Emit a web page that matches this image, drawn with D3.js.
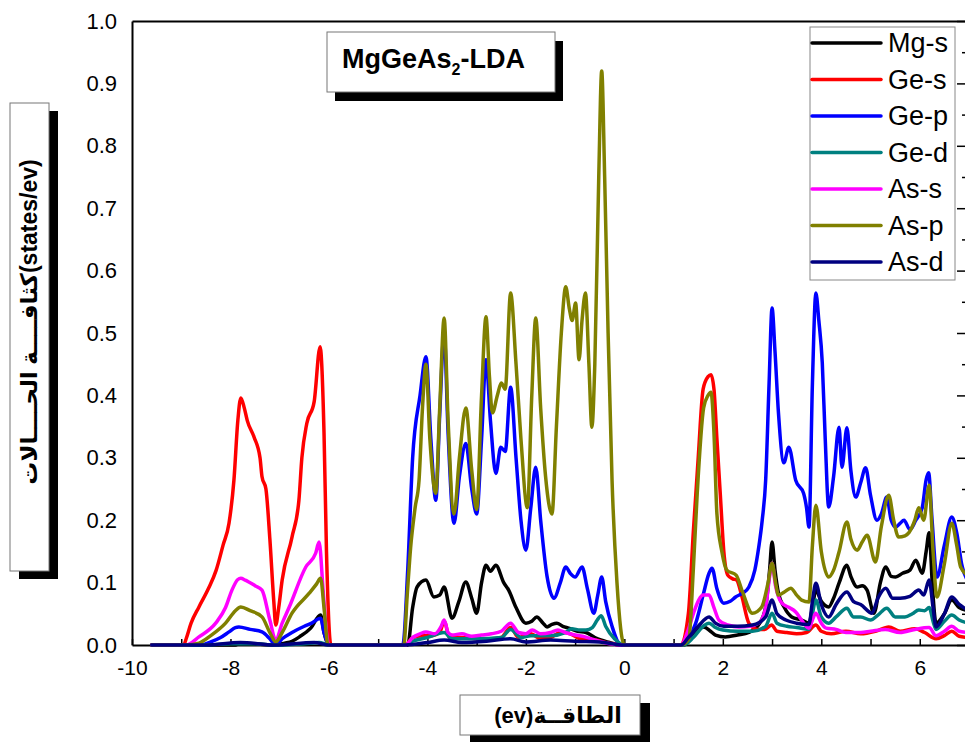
<!DOCTYPE html>
<html>
<head>
<meta charset="utf-8">
<script src="https://cdn.jsdelivr.net/npm/d3@7"></script>
<style>
  body { margin: 0; background: #fff; }
  text { font-family: "Liberation Sans", "DejaVu Sans", Arial, sans-serif; }
</style>
</head>
<body>
<div id="viz"></div>
<script>
const width = 965;
const height = 742;

// Series names / colours (legend order = drawing order)
const seriesNames = ['Mg-s', 'Ge-s', 'Ge-p', 'Ge-d', 'As-s', 'As-p', 'As-d'];
const seriesColors = ['#000000', '#ff0000', '#0000ff', '#008080', '#ff00ff', '#808000', '#000080'];

// [energy (eV), DOS (states/eV)]
const mgS = [[-9.6,0],[-7.9,0],[-7.8,0.003],[-7.1,0],[-6.9,0.003],[-6.75,0.006],[-6.6,0.013],[-6.37,0.027],[-6.17,0.048],[-6.1,0.02],[-6.0,0],
  [-4.4,0],[-4.3,0.06],[-4.21,0.093],[-4.03,0.104],[-3.87,0.077],[-3.75,0.08],[-3.66,0.093],[-3.5,0.043],[-3.36,0.07],[-3.22,0.101],[-3.1,0.075],[-3.0,0.051],[-2.9,0.1],[-2.81,0.128],[-2.72,0.118],[-2.61,0.128],[-2.45,0.1],[-2.35,0.088],[-2.2,0.06],[-2.0,0.035],[-1.88,0.038],[-1.78,0.045],[-1.65,0.035],[-1.57,0.029],[-1.47,0.033],[-1.37,0.035],[-1.25,0.03],[-1.13,0.027],[-0.95,0.022],[-0.78,0.02],[-0.6,0.012],[-0.48,0.008],[-0.3,0.004],[-0.1,0],
  [1.2,0],[1.4,0.015],[1.61,0.029],[1.75,0.022],[1.85,0.016],[2.05,0.013],[2.3,0.016],[2.53,0.02],[2.75,0.035],[2.87,0.061],[2.95,0.12],[3.0,0.165],[3.06,0.12],[3.13,0.083],[3.25,0.06],[3.4,0.045],[3.6,0.04],[3.75,0.035],[3.82,0.06],[3.89,0.088],[4.0,0.07],[4.15,0.061],[4.25,0.075],[4.36,0.099],[4.52,0.128],[4.6,0.11],[4.73,0.093],[4.83,0.095],[4.93,0.088],[5.07,0.051],[5.2,0.1],[5.31,0.125],[5.42,0.11],[5.51,0.109],[5.65,0.115],[5.8,0.12],[5.92,0.136],[6.05,0.115],[6.13,0.15],[6.19,0.18],[6.26,0.09],[6.33,0.035],[6.5,0.05],[6.65,0.072],[6.8,0.06],[7.0,0.055]];

const geS = [[-9.6,0],[-8.95,0],[-8.9,0.01],[-8.8,0.035],[-8.64,0.061],[-8.45,0.09],[-8.29,0.12],[-8.15,0.16],[-8.03,0.195],[-7.93,0.264],[-7.85,0.36],[-7.79,0.396],[-7.72,0.38],[-7.66,0.36],[-7.52,0.333],[-7.4,0.3],[-7.36,0.27],[-7.28,0.25],[-7.2,0.17],[-7.12,0.07],[-7.08,0.032],[-7.02,0.06],[-6.95,0.104],[-6.75,0.173],[-6.61,0.232],[-6.55,0.3],[-6.45,0.355],[-6.3,0.39],[-6.18,0.478],[-6.1,0.34],[-6.05,0.15],[-5.96,0],
  [-4.45,0],[-4.3,0.012],[-4.1,0.015],[-3.9,0.015],[-3.75,0.02],[-3.66,0.038],[-3.55,0.012],[-3.3,0.012],[-3.0,0.01],[-2.7,0.01],[-2.5,0.012],[-2.31,0.028],[-2.15,0.012],[-1.9,0.018],[-1.7,0.01],[-1.5,0.012],[-1.27,0.021],[-1.1,0.018],[-0.9,0.01],[-0.6,0.008],[-0.3,0.003],[0,0],
  [1.15,0],[1.3,0.05],[1.4,0.18],[1.5,0.3],[1.6,0.41],[1.7,0.43],[1.76,0.433],[1.82,0.41],[1.88,0.33],[1.95,0.24],[2.02,0.15],[2.1,0.112],[2.2,0.106],[2.28,0.104],[2.38,0.08],[2.53,0.035],[2.7,0.025],[2.85,0.025],[2.99,0.032],[3.1,0.022],[3.3,0.02],[3.5,0.018],[3.7,0.02],[3.89,0.032],[4.0,0.022],[4.2,0.018],[4.5,0.022],[4.8,0.018],[5.1,0.022],[5.37,0.029],[5.6,0.022],[5.9,0.026],[6.1,0.02],[6.33,0.01],[6.5,0.015],[6.65,0.022],[6.8,0.014],[7.0,0.012]];

const geP = [[-9.6,0],[-8.6,0],[-8.4,0.005],[-8.2,0.012],[-8.03,0.021],[-7.9,0.028],[-7.83,0.029],[-7.6,0.025],[-7.36,0.021],[-7.2,0.01],[-7.08,0],[-6.95,0.01],[-6.75,0.02],[-6.5,0.03],[-6.35,0.035],[-6.17,0.043],[-6.1,0.02],[-6.0,0],
  [-4.5,0],[-4.4,0.12],[-4.3,0.3],[-4.15,0.4],[-4.03,0.462],[-3.93,0.33],[-3.83,0.232],[-3.75,0.37],[-3.66,0.5],[-3.58,0.34],[-3.46,0.195],[-3.35,0.27],[-3.22,0.323],[-3.1,0.25],[-3.0,0.21],[-2.9,0.33],[-2.81,0.457],[-2.72,0.36],[-2.61,0.275],[-2.51,0.317],[-2.42,0.31],[-2.31,0.413],[-2.2,0.3],[-2.1,0.2],[-2.0,0.152],[-1.9,0.22],[-1.8,0.285],[-1.7,0.2],[-1.57,0.11],[-1.43,0.075],[-1.3,0.1],[-1.19,0.125],[-1.1,0.115],[-1.0,0.109],[-0.86,0.125],[-0.75,0.09],[-0.62,0.051],[-0.54,0.08],[-0.46,0.109],[-0.38,0.07],[-0.25,0.03],[-0.07,0],
  [1.15,0],[1.3,0.01],[1.45,0.035],[1.6,0.08],[1.72,0.115],[1.78,0.123],[1.88,0.09],[2.02,0.067],[2.15,0.07],[2.26,0.077],[2.4,0.083],[2.53,0.093],[2.65,0.12],[2.73,0.157],[2.8,0.2],[2.87,0.264],[2.94,0.42],[3.0,0.54],[3.06,0.47],[3.13,0.372],[3.24,0.292],[3.34,0.317],[3.48,0.264],[3.64,0.243],[3.7,0.22],[3.75,0.189],[3.82,0.42],[3.89,0.564],[3.95,0.52],[4.02,0.452],[4.08,0.33],[4.15,0.221],[4.25,0.27],[4.36,0.349],[4.42,0.285],[4.52,0.348],[4.6,0.28],[4.7,0.237],[4.8,0.26],[4.9,0.284],[5.0,0.24],[5.13,0.2],[5.22,0.21],[5.33,0.237],[5.42,0.2],[5.51,0.189],[5.6,0.195],[5.68,0.2],[5.8,0.185],[5.92,0.2],[6.05,0.22],[6.13,0.265],[6.18,0.276],[6.25,0.2],[6.35,0.109],[6.5,0.16],[6.65,0.205],[6.75,0.18],[6.85,0.13],[7.0,0.1]];

const geD = [[-9.6,0],[-8.5,0],[-8.0,0.002],[-7.5,0.002],[-7.1,0],[-6.5,0.002],[-6.2,0.004],[-6.0,0],
  [-4.45,0],[-4.3,0.006],[-4.0,0.012],[-3.66,0.02],[-3.5,0.01],[-3.0,0.01],[-2.5,0.012],[-2.31,0.025],[-2.1,0.012],[-1.9,0.015],[-1.5,0.015],[-1.2,0.02],[-1.07,0.026],[-0.9,0.024],[-0.78,0.024],[-0.65,0.028],[-0.55,0.04],[-0.47,0.047],[-0.38,0.03],[-0.2,0.01],[0,0],
  [1.2,0],[1.4,0.012],[1.6,0.03],[1.72,0.035],[1.85,0.028],[2.0,0.024],[2.3,0.022],[2.6,0.022],[2.87,0.03],[3.0,0.051],[3.1,0.035],[3.3,0.03],[3.5,0.028],[3.75,0.025],[3.89,0.072],[4.0,0.045],[4.15,0.035],[4.3,0.045],[4.52,0.059],[4.65,0.045],[4.8,0.045],[5.0,0.04],[5.15,0.048],[5.33,0.059],[5.5,0.045],[5.7,0.045],[5.85,0.05],[5.98,0.056],[6.1,0.055],[6.19,0.06],[6.28,0.035],[6.33,0.025],[6.5,0.038],[6.65,0.048],[6.8,0.04],[7.0,0.035]];

const asS = [[-9.6,0],[-8.9,0],[-8.64,0.013],[-8.3,0.035],[-8.1,0.06],[-7.97,0.088],[-7.85,0.105],[-7.79,0.107],[-7.7,0.104],[-7.5,0.095],[-7.36,0.088],[-7.2,0.04],[-7.08,0.008],[-6.95,0.035],[-6.81,0.06],[-6.47,0.125],[-6.27,0.147],[-6.2,0.165],[-6.12,0.09],[-6.05,0.02],[-6.0,0],
  [-4.45,0],[-4.3,0.012],[-4.15,0.018],[-4.03,0.021],[-3.85,0.018],[-3.72,0.03],[-3.66,0.04],[-3.58,0.02],[-3.5,0.016],[-3.3,0.018],[-3.1,0.014],[-2.9,0.016],[-2.7,0.018],[-2.5,0.022],[-2.31,0.035],[-2.15,0.02],[-2.0,0.018],[-1.87,0.024],[-1.7,0.018],[-1.5,0.02],[-1.35,0.024],[-1.2,0.02],[-1.0,0.016],[-0.8,0.013],[-0.6,0.008],[-0.3,0.002],[0,0],
  [1.15,0],[1.3,0.025],[1.4,0.05],[1.51,0.072],[1.6,0.08],[1.72,0.08],[1.82,0.06],[1.92,0.04],[2.1,0.032],[2.33,0.029],[2.55,0.03],[2.73,0.035],[2.87,0.06],[2.95,0.11],[3.0,0.131],[3.07,0.095],[3.2,0.067],[3.35,0.06],[3.48,0.053],[3.6,0.04],[3.75,0.027],[3.82,0.04],[3.89,0.051],[4.0,0.035],[4.1,0.027],[4.3,0.025],[4.5,0.02],[4.8,0.02],[5.0,0.022],[5.3,0.025],[5.6,0.02],[5.9,0.025],[6.19,0.028],[6.33,0.015],[6.5,0.022],[6.65,0.03],[6.8,0.022],[7.0,0.02]];

const asP = [[-9.6,0],[-8.9,0],[-8.64,0.003],[-8.4,0.015],[-8.1,0.035],[-7.9,0.055],[-7.79,0.061],[-7.6,0.055],[-7.36,0.045],[-7.2,0.02],[-7.08,0.005],[-6.95,0.02],[-6.75,0.051],[-6.4,0.083],[-6.25,0.098],[-6.17,0.107],[-6.1,0.06],[-6.02,0],
  [-4.48,0],[-4.41,0.08],[-4.34,0.157],[-4.25,0.22],[-4.17,0.264],[-4.1,0.38],[-4.03,0.45],[-3.95,0.33],[-3.83,0.243],[-3.75,0.38],[-3.66,0.524],[-3.58,0.36],[-3.46,0.21],[-3.35,0.3],[-3.22,0.38],[-3.1,0.28],[-3.0,0.217],[-2.9,0.4],[-2.81,0.526],[-2.74,0.43],[-2.68,0.372],[-2.58,0.4],[-2.5,0.42],[-2.42,0.41],[-2.31,0.564],[-2.2,0.45],[-2.1,0.33],[-1.97,0.22],[-1.88,0.4],[-1.8,0.524],[-1.7,0.38],[-1.6,0.27],[-1.47,0.21],[-1.38,0.35],[-1.28,0.5],[-1.19,0.574],[-1.12,0.54],[-1.06,0.52],[-0.99,0.548],[-0.92,0.457],[-0.86,0.52],[-0.79,0.564],[-0.72,0.45],[-0.66,0.349],[-0.6,0.45],[-0.52,0.75],[-0.46,0.92],[-0.4,0.75],[-0.33,0.5],[-0.25,0.264],[-0.15,0.1],[0.0,0],
  [1.15,0],[1.31,0.01],[1.4,0.12],[1.48,0.243],[1.61,0.38],[1.7,0.4],[1.76,0.405],[1.82,0.34],[1.88,0.21],[1.98,0.15],[2.08,0.12],[2.27,0.112],[2.4,0.085],[2.6,0.051],[2.79,0.061],[2.92,0.1],[3.0,0.131],[3.07,0.1],[3.13,0.08],[3.25,0.085],[3.38,0.091],[3.5,0.08],[3.6,0.072],[3.75,0.069],[3.82,0.16],[3.89,0.224],[4.0,0.15],[4.15,0.109],[4.25,0.12],[4.36,0.149],[4.52,0.197],[4.6,0.17],[4.73,0.152],[4.83,0.165],[4.93,0.176],[5.1,0.133],[5.22,0.19],[5.37,0.24],[5.47,0.2],[5.57,0.173],[5.7,0.175],[5.78,0.18],[5.9,0.2],[5.98,0.22],[6.08,0.2],[6.19,0.256],[6.27,0.15],[6.35,0.077],[6.5,0.13],[6.65,0.195],[6.75,0.16],[6.83,0.125],[7.0,0.11]];

const asD = [[-9.6,0],[-8.5,0],[-7.8,0.004],[-7.1,0],[-6.3,0.004],[-6.0,0],
  [-4.45,0],[-4.0,0.004],[-3.66,0.008],[-3.3,0.004],[-2.8,0.006],[-2.31,0.01],[-2.0,0.005],[-1.5,0.008],[-1.0,0.006],[-0.5,0.005],[0,0],
  [1.15,0],[1.3,0.012],[1.5,0.03],[1.72,0.045],[1.85,0.035],[2.02,0.03],[2.3,0.03],[2.6,0.032],[2.87,0.045],[3.0,0.072],[3.1,0.05],[3.28,0.04],[3.5,0.035],[3.75,0.033],[3.82,0.07],[3.89,0.099],[4.0,0.065],[4.15,0.045],[4.3,0.065],[4.52,0.085],[4.65,0.07],[4.8,0.065],[5.03,0.051],[5.15,0.075],[5.31,0.091],[5.45,0.075],[5.6,0.075],[5.8,0.078],[5.98,0.088],[6.08,0.08],[6.19,0.104],[6.27,0.06],[6.33,0.029],[6.5,0.05],[6.65,0.077],[6.8,0.065],[7.0,0.055]];

const seriesData = [mgS, geS, geP, geD, asS, asP, asD];

const yTickValues = d3.range(11).map(i => i / 10);
const xTickValues = d3.range(-10, 8);

// Scales
const xScale = d3.scaleLinear().domain([-10, 7]).range([132, 969]);
const yScale = d3.scaleLinear().domain([0, 1]).range([645, 21]);

const svg = d3.select('#viz')
  .append('svg')
    .attr('width', width)
    .attr('height', height);

// Left axis (labels only)
const yAxis = svg.append('g')
    .attr('transform', `translate(${xScale(-10)},0)`)
  .call(d3.axisLeft(yScale).tickValues(yTickValues).tickSize(0).tickPadding(15).tickFormat(d3.format('.1f')));
yAxis.selectAll('text').style('font-size', '22px').attr('fill', '#000');

// Bottom axis, ticks pointing inward
const xAxis = svg.append('g')
    .attr('transform', `translate(0,${yScale(0)})`)
  .call(d3.axisBottom(xScale).tickValues(xTickValues).tickSizeInner(-6).tickSizeOuter(0).tickPadding(15)
    .tickFormat(d => (d % 2 === 0 && d <= 6) ? d : ''));
xAxis.selectAll('text').style('font-size', '21px').attr('fill', '#000');

// Top axis (line only)
svg.append('g')
    .attr('transform', `translate(0,${yScale(1)})`)
  .call(d3.axisTop(xScale).tickValues([]).tickSizeOuter(0));

// Right axis, major and minor ticks pointing inward
const rightAxis = svg.append('g')
    .attr('transform', `translate(${xScale(7)},0)`)
  .call(d3.axisLeft(yScale).tickValues(d3.range(21).map(i => i / 20)).tickSizeOuter(0).tickFormat(''));
rightAxis.selectAll('.tick line').attr('x2', (d, i) => i % 2 === 0 ? -12 : -7);

svg.selectAll('.domain').attr('stroke', '#000').attr('stroke-width', 2);
svg.selectAll('.tick line').attr('stroke', '#000').attr('stroke-width', 1.5);

// Curves
const lineGen = d3.line()
  .x(d => xScale(d[0]))
  .y(d => yScale(d[1]))
  .curve(d3.curveMonotoneX);

svg.append('g')
    .attr('class', 'curves')
  .selectAll('path')
  .data(seriesData)
  .join('path')
    .attr('d', d => lineGen(d))
    .attr('fill', 'none')
    .attr('stroke', (d, i) => seriesColors[i])
    .attr('stroke-width', 3.5)
    .attr('stroke-linejoin', 'round')
    .attr('stroke-linecap', 'round');

// Boxed label with a drop shadow
function shadowBox(x, y, w, h, dx, dy) {
  svg.append('rect').attr('x', x + dx).attr('y', y + dy).attr('width', w).attr('height', h).attr('fill', '#000');
  svg.append('rect').attr('x', x).attr('y', y).attr('width', w).attr('height', h)
    .attr('fill', '#fff').attr('stroke', '#777').attr('stroke-width', 1);
}

// Title
shadowBox(327, 32, 228, 60, 8, 9);
const title = svg.append('text')
    .attr('x', 342)
    .attr('y', 68)
    .style('font-size', '27px')
    .style('font-weight', 700);
title.append('tspan').text('MgGeAs');
title.append('tspan').attr('dy', 7).style('font-size', '16px').text('2');
title.append('tspan').attr('dy', -7).text('-LDA');

// Legend
svg.append('rect')
    .attr('x', 810).attr('y', 27).attr('width', 145).attr('height', 253)
    .attr('fill', '#fff').attr('stroke', '#888').attr('stroke-width', 1);
const legendItems = svg.append('g')
  .selectAll('g')
  .data(seriesNames)
  .join('g')
    .attr('transform', (d, i) => `translate(812,${43 + i * 36.5})`);
legendItems.append('line')
    .attr('x1', 0).attr('x2', 69)
    .attr('stroke', (d, i) => seriesColors[i])
    .attr('stroke-width', 3.5)
    .attr('stroke-linecap', 'round');
legendItems.append('text')
    .attr('x', 76)
    .attr('y', 9)
    .style('font-size', '27px')
    .text(d => d);

// Y axis title
shadowBox(10, 103, 39, 468, 9, 8);
svg.append('text')
    .attr('transform', 'translate(37,322) rotate(-90)')
    .attr('text-anchor', 'middle')
    .attr('direction', 'ltr')
    .style('font-size', '23px')
    .style('font-weight', 700)
    .text('كثافــــة الحــــالات(states/ev)');

// X axis title
shadowBox(460, 695, 180, 40, 10, 8);
svg.append('text')
    .attr('x', 558)
    .attr('y', 723)
    .attr('text-anchor', 'middle')
    .attr('direction', 'ltr')
    .style('font-size', '22px')
    .style('font-weight', 700)
    .text('(ev)الطاقــة');
</script>
</body>
</html>
